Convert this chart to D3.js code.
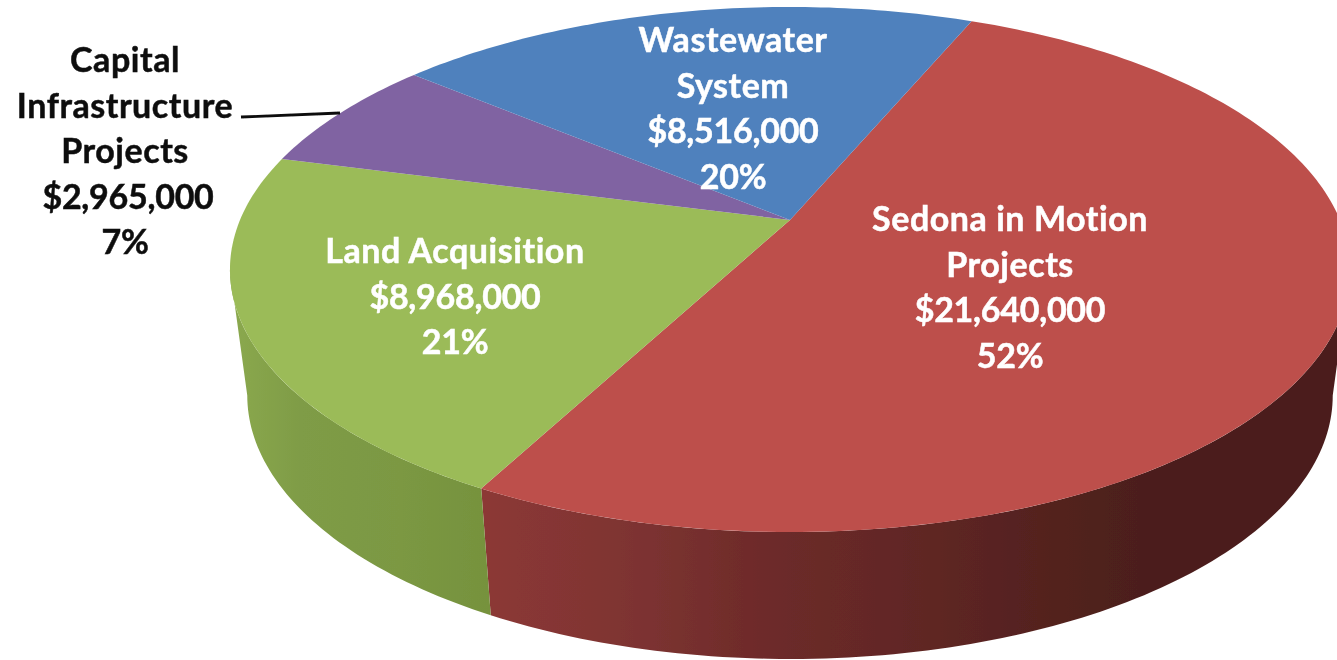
<!DOCTYPE html>
<html>
<head>
<meta charset="utf-8">
<script src="https://cdn.jsdelivr.net/npm/d3@7/dist/d3.min.js"></script>
<style>
html,body{margin:0;padding:0;background:#fff;overflow:hidden}
text{font-family:Lato,"Open Sans",sans-serif;font-weight:700;text-anchor:middle;font-variant-ligatures:none;paint-order:stroke}
</style>
</head>
<body>
<svg id="c" width="1337" height="660"></svg>
<script>
const categories = ["Sedona in Motion Projects","Land Acquisition","Capital Infrastructure Projects","Wastewater System"];
const amounts = [21640000,8968000,2965000,8516000];
const percents = [52,21,7,20];
const nameLines = [["Sedona in Motion","Projects"],["Land Acquisition"],["Capital","Infrastructure","Projects"],["Wastewater","System"]];
const topColors = ["#BD4F4C","#9BBB59","#8064A2","#4F81BD"];

const width=1337,height=660,rad=Math.PI/180;
const svg=d3.select("#c");
const defs=svg.append("defs");
defs.append("filter").attr("id","soft").append("feGaussianBlur").attr("stdDeviation",0.5);

// perspective projection of the unit disc: top rim and bottom rim
const k=-0.1886;
const rimTop={x0:790,a:550,b:211.7,c:220};
const rimBot={x0:790,a:533,b:189,c:345.7};
function project(rim,angle){
  const x=Math.sin(angle),y=-Math.cos(angle),d=1+k*y;
  return [rim.x0+rim.a*x/d,(rim.b*y+rim.c)/d];
}
const startDeg=22.8;
const arcs=d3.pie().sort(null).value(d=>d)
  .startAngle(startDeg*rad).endAngle((startDeg+360)*rad)(amounts);
const sample=(a0,a1)=>{
  const n=Math.max(2,Math.ceil(Math.abs(a1-a0)/rad));
  return d3.range(n+1).map(i=>a0+(a1-a0)*i/n);
};
const line=d3.line();

// side wall gradients
const wallGrad=[
 {id:"wallRed",stops:[[482,"#8C3836"],[620,"#7F3432"],[760,"#6E2B2A"],[900,"#622725"],[1040,"#54221F"],[1140,"#4C1F1D"],[1337,"#4B1F1D"]]},
 {id:"wallGreen",stops:[[235,"#8AA84E"],[300,"#7F9C46"],[400,"#7B9843"],[490,"#76923D"]]}
];
wallGrad.forEach(g=>{
  const x0=g.stops[0][0],x1=g.stops[g.stops.length-1][0];
  const lg=defs.append("linearGradient").attr("id",g.id).attr("gradientUnits","userSpaceOnUse")
    .attr("x1",x0).attr("x2",x1).attr("y1",0).attr("y2",0);
  g.stops.forEach(s=>lg.append("stop").attr("offset",(s[0]-x0)/(x1-x0)).attr("stop-color",s[1]));
});

const root=svg.append("g").attr("filter","url(#soft)");

// visible wall runs between the two silhouette angles
const silR=100.9*rad,silL=259.1*rad;
const walls=[{i:0,fill:"url(#wallRed)"},{i:1,fill:"url(#wallGreen)"}];
root.selectAll("path.wall").data(walls).join("path").attr("class","wall")
  .attr("fill",d=>d.fill)
  .attr("d",d=>{
    const a0=Math.max(arcs[d.i].startAngle,silR),a1=Math.min(arcs[d.i].endAngle,silL);
    const as=sample(a0,a1);
    return line(as.map(a=>project(rimTop,a)).concat(as.slice().reverse().map(a=>project(rimBot,a))))+"Z";
  });

// top faces
root.selectAll("path.top").data(arcs).join("path").attr("class","top")
  .attr("fill",(d,i)=>topColors[i])
  .attr("d",d=>{
    const as=sample(d.startAngle,d.endAngle);
    return line([[rimTop.x0,rimTop.c]].concat(as.map(a=>project(rimTop,a))))+"Z";
  });

// leader line
const leaderX=[241,340],leaderY=[117,113];
root.append("line").attr("x1",leaderX[0]).attr("y1",leaderY[0]).attr("x2",leaderX[1]).attr("y2",leaderY[1])
  .attr("stroke","#111").attr("stroke-width",2.8);

// labels
const labelX=[1010,455,125,733];
const labelY=[231,263,72,52];
const amountDx=[0,0,3,0];
const labelFill=["#fff","#fff","#111","#fff"];
const lh=45.6, fs=34;
const fmt=d3.format("$,");
categories.forEach((c,i)=>{
  const n=nameLines[i].length;
  const lines=nameLines[i].concat([fmt(amounts[i]),percents[i]+"%"]);
  root.append("g").selectAll("text").data(lines).join("text")
    .attr("x",(d,j)=>labelX[i]+(j===n?amountDx[i]:0)).attr("y",(d,j)=>labelY[i]+j*lh)
    .attr("font-size",fs).attr("fill",labelFill[i])
    .attr("letter-spacing",(d,j)=>j<n?0.55:-0.25)
    .attr("stroke",labelFill[i]).attr("stroke-width",0.5).text(d=>d);
});
</script>
</body>
</html>
